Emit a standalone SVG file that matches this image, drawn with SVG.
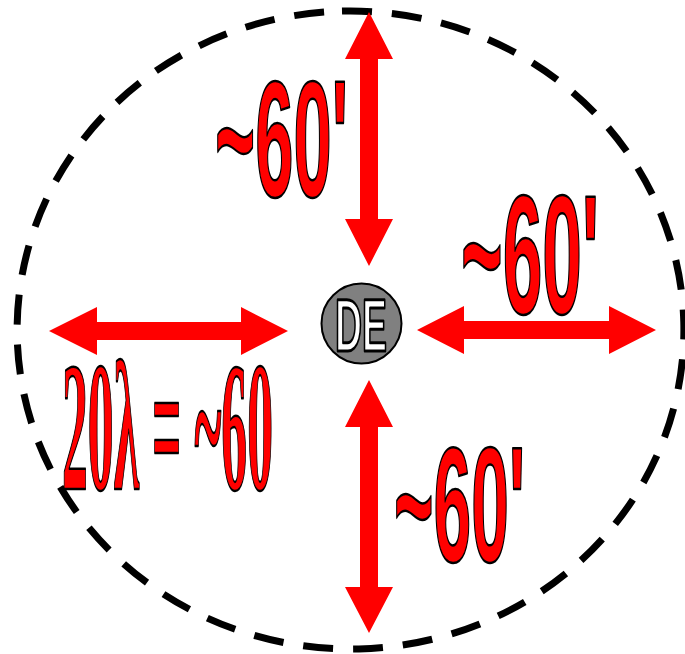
<svg xmlns="http://www.w3.org/2000/svg" width="685" height="654" viewBox="0 0 685 654">
  <style>
    .ring { fill: none; stroke: #000; stroke-width: 7; stroke-dasharray: 30 20.02; }
    .arrow { fill: #FF0000; stroke: none; }
    .lbl { font-family: "Liberation Sans", Arial, sans-serif; font-weight: bold; fill: #FF0000; stroke: #000; stroke-width: 2.5; stroke-linejoin: round; }
    .lbl-serif { font-family: "Liberation Serif", "Times New Roman", serif; font-weight: bold; fill: #FF0000; stroke: #000; stroke-width: 2.5; stroke-linejoin: round; }
    .node-circle { fill: #808080; stroke: #000; stroke-width: 2; }
    .node-text { font-family: "Liberation Sans", Arial, sans-serif; font-weight: bold; fill: #FFFFFF; stroke: #000; stroke-width: 3; stroke-linejoin: round; }
  </style>
  <rect width="685" height="654" fill="#FFFFFF"/>
  <g id="boundary">
    <path class="ring" d="M 342 11.1 A 333.5 319 0 0 1 359 648.9 A 333.5 319 0 0 1 342 11.1 Z"/>
  </g>
  <g id="connectors">
    <polygon class="arrow" points="369,12 393,59 378,59 378,219 393,219 369,266 345,219 360,219 360,59 345,59"/>
    <polygon class="arrow" points="369,380 393,427 378,427 378,587 393,587 369,633 345,587 360,587 360,427 345,427"/>
    <polygon class="arrow" points="49,331 97,307 97,322 241,322 241,307 288,331 241,355 241,340 97,340 97,355"/>
    <polygon class="arrow" points="417,330 464,306 464,321 609,321 609,306 656,330 609,354 609,339 464,339 464,354"/>
  </g>
  <g id="node-de">
    <circle class="node-circle" cx="361.5" cy="323.5" r="40"/>
    <text class="node-text" x="335" y="351" font-size="74" textLength="52" lengthAdjust="spacingAndGlyphs">DE</text>
  </g>
  <g id="label-top">
    <text class="lbl" x="215" y="196" font-size="166" textLength="133" lengthAdjust="spacingAndGlyphs">~60'</text>
  </g>
  <g id="label-right">
    <text class="lbl" x="461" y="313" font-size="168" textLength="138" lengthAdjust="spacingAndGlyphs">~60'</text>
  </g>
  <g id="label-bottom">
    <text class="lbl" x="394" y="561" font-size="164" textLength="131" lengthAdjust="spacingAndGlyphs">~60'</text>
  </g>
  <g id="label-left">
    <text class="lbl-serif" x="62" y="489" font-size="185" textLength="211" lengthAdjust="spacingAndGlyphs">20λ = ~60</text>
  </g>
</svg>
